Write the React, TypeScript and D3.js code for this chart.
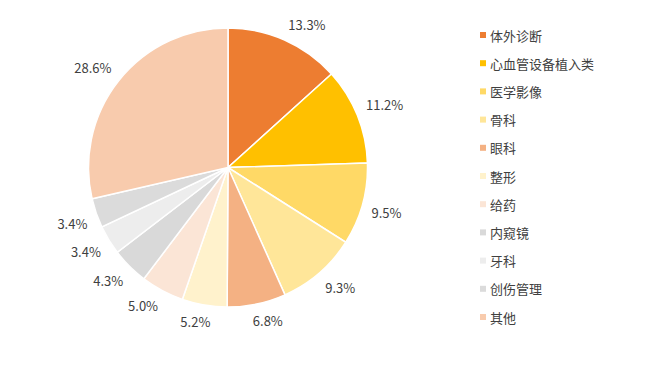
import React from "react";
import { pie, arc, PieArcDatum } from "d3";

const WIDTH = 648;
const HEIGHT = 369;
const CENTER = { x: 228, y: 167.5 };
const RADIUS = 139.5;

const categories = [
  "体外诊断",
  "心血管设备植入类",
  "医学影像",
  "骨科",
  "眼科",
  "整形",
  "给药",
  "内窥镜",
  "牙科",
  "创伤管理",
  "其他",
];
const shares = [13.3, 11.2, 9.5, 9.3, 6.8, 5.2, 5.0, 4.3, 3.4, 3.4, 28.6];
const colors = [
  "#ED7D31",
  "#FFC000",
  "#FFD966",
  "#FFE699",
  "#F4B183",
  "#FFF2CC",
  "#FBE5D6",
  "#D9D9D9",
  "#EDEDED",
  "#DBDBDB",
  "#F8CBAD",
];

const FONT = "'Noto Sans CJK SC', 'Noto Sans', sans-serif";

type Slice = { name: string; value: number; color: string };

export default function App() {
  const data: Slice[] = categories.map((name, i) => ({
    name,
    value: shares[i],
    color: colors[i],
  }));

  // keep input order, clockwise from 12 o'clock
  const arcs = pie<Slice>()
    .sort(null)
    .value((d) => d.value)(data);

  const arcGen = arc<PieArcDatum<Slice>>().innerRadius(0).outerRadius(RADIUS);

  // outside-end labels: anchor just past the rim, box pushed away from it
  const labelPos = (a: PieArcDatum<Slice>, text: string) => {
    const mid = (a.startAngle + a.endAngle) / 2;
    const sx = Math.sin(mid);
    const sy = -Math.cos(mid);
    const w = text.length * 7.4;
    const h = 14;
    const r = RADIUS + 9.5;
    const fx = Math.sign(sx) * Math.min(1, Math.abs(sx) * 3);
    const fy = Math.sign(sy) * Math.min(1, Math.abs(sy) * 3);
    return [sx * r + fx * (w / 2), sy * r + fy * (h / 2)];
  };

  return (
    <svg
      width={WIDTH}
      height={HEIGHT}
      style={{ position: "absolute", left: 0, top: 0, background: "#fff" }}
      fontFamily={FONT}
    >
      <g transform={`translate(${CENTER.x}, ${CENTER.y})`}>
        {arcs.map((a, i) => (
          <path
            key={i}
            d={arcGen(a) || ""}
            fill={a.data.color}
            stroke="#fff"
            strokeWidth={1.5}
          />
        ))}
        {arcs.map((a, i) => {
          const text = `${a.data.value.toFixed(1)}%`;
          const [x, y] = labelPos(a, text);
          return (
            <text
              key={i}
              x={x}
              y={y}
              textAnchor="middle"
              dominantBaseline="central"
              fontSize={13}
              fill="#404040"
            >
              {text}
            </text>
          );
        })}
      </g>

      {/* Legend */}
      <g transform="translate(480, 35)">
        {data.map((d, i) => (
          <g key={i} transform={`translate(0, ${i * 28.2})`}>
            <rect x={0} y={-3} width={6} height={6} fill={d.color} />
            <text
              x={10}
              y={0}
              dominantBaseline="central"
              fontSize={13}
              fill="#404040"
            >
              {d.name}
            </text>
          </g>
        ))}
      </g>
    </svg>
  );
}
